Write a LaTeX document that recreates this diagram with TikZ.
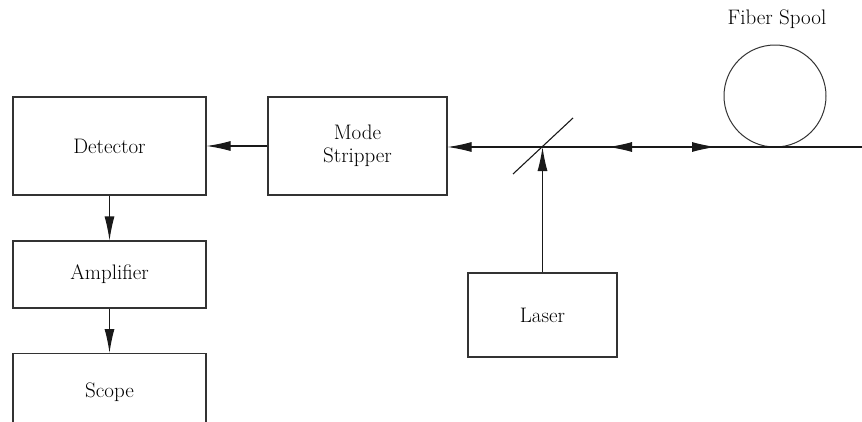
\documentclass[tikz,border=0pt]{standalone}
\usetikzlibrary{arrows.meta}
\begin{document}
\begin{tikzpicture}[x=1pt,y=-1pt,
  every node/.style={font=\fontsize{21}{23}\selectfont},
  blockbox/.style={draw=black!80, line width=1.1pt, rectangle, inner sep=0pt, align=center},
  sig/.style={draw=black!90, line width=1.1pt},
  tip/.style={-{Latex[length=24pt,width=10pt]}},
]
\useasboundingbox (0,0) rectangle (862,421);
\begin{scope}
\clip (0,0) rectangle (862,421);

% instrument blocks
\node[blockbox, minimum width=193, minimum height=98] (det) at (109.5,146) {Detector};
\node[blockbox, minimum width=179, minimum height=98] (ms) at (357.5,146) {Mode\\Stripper};
\node[blockbox, minimum width=193, minimum height=67] (amp) at (109.5,274.5) {Amplifier};
\node[blockbox, minimum width=193, minimum height=80, anchor=north] (scope) at (109.5,353) {\raisebox{6pt}{Scope}};
\node[blockbox, minimum width=149, minimum height=84] (laser) at (542.5,315) {Laser};

% fiber spool
\node[circle, draw=black!80, line width=1pt, minimum size=102, inner sep=0pt] (spool) at (775,96) {};
\node (spoollabel) at (777,19) {Fiber Spool};

% beam splitter and fiber end
\coordinate (bs) at (542.5,147);
\coordinate (fiberend) at (862,147);
\coordinate (bsA) at (513,174);
\coordinate (bsB) at (573,118);
\draw[sig] (bsA) -- (bsB);

% optical path
\draw[sig, tip] (fiberend) -- (ms.east |- bs);
\draw[sig, tip] (ms.west) -- (det.east);
\draw[sig, tip] (laser.north) -- (bs);
\coordinate (m1a) at (634,147);
\coordinate (m1b) at (608,147);
\coordinate (m2a) at (690,147);
\coordinate (m2b) at (716,147);
\draw[sig, tip] (m1a) -- (m1b);
\draw[sig, tip] (m2a) -- (m2b);

% electrical chain
\draw[sig, tip] (det.south) -- (amp.north);
\draw[sig, tip] (amp.south) -- (scope.north);
\end{scope}
\end{tikzpicture}
\end{document}
